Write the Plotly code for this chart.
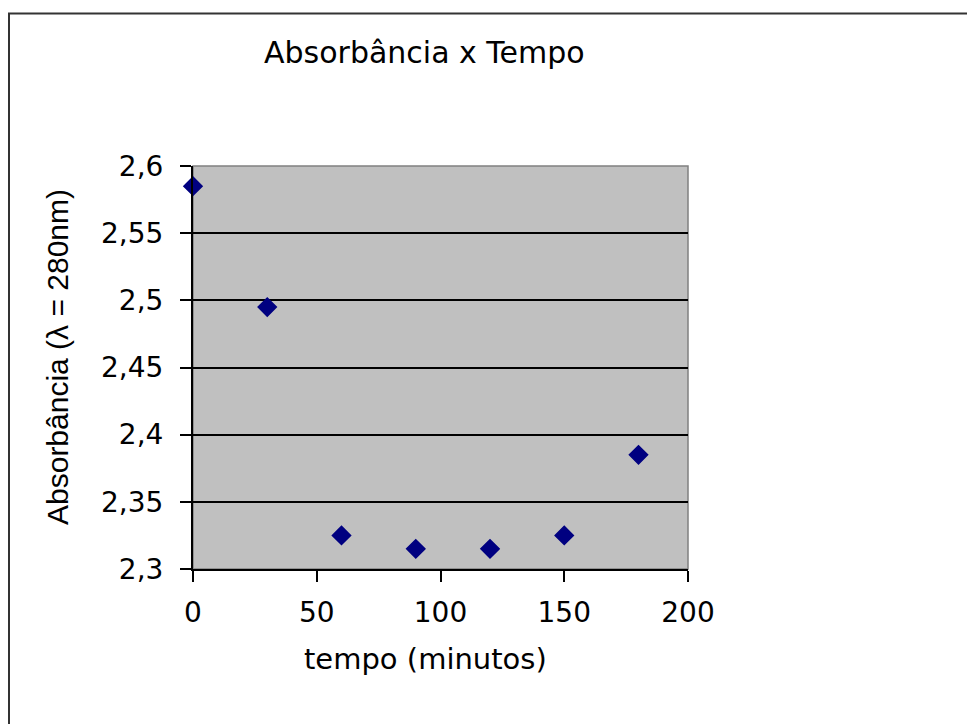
import plotly.graph_objects as go

# data
tempo = [0, 30, 60, 90, 120, 150, 180]
absorbancia = [2.585, 2.495, 2.325, 2.315, 2.315, 2.325, 2.385]
x_ticks = [0, 50, 100, 150, 200]
x_ticklabels = ["0", "50", "100", "150", "200"]
y_ticks = [2.3, 2.35, 2.4, 2.45, 2.5, 2.55, 2.6]
y_ticklabels = ["2,3", "2,35", "2,4", "2,45", "2,5", "2,55", "2,6"]

title_text = "Absorbância x Tempo"
x_title = "tempo (minutos)"
y_title = "Absorbância (λ = 280nm)"

WIN_W, WIN_H = 975, 724
OFF = 8  # page body margin
W, H = WIN_W - OFF, WIN_H - OFF
# plot area in screenshot pixels
L, R, T, B = 193, 688, 166, 569

WIDE = "DejaVu Sans, Verdana, sans-serif"
ARIAL = "Liberation Sans, Arial, sans-serif"

fig = go.Figure()
fig.add_trace(go.Scatter(
    x=tempo, y=absorbancia, mode="markers",
    marker=dict(symbol="diamond", size=14, color="#000080",
                line=dict(width=1.5, color="#000080")),
    cliponaxis=False, showlegend=False,
))

def px_x(p):
    return (p - L) / (R - L)

def px_y(p):
    return (B - p) / (B - T)

fig.update_layout(
    width=W, height=H,
    margin=dict(l=L - OFF, r=WIN_W - R, t=T - OFF, b=WIN_H - B, pad=0),
    paper_bgcolor="white",
    plot_bgcolor="#C0C0C0",
    font=dict(family=WIDE, color="black"),
    xaxis=dict(
        range=[0, 200], tickvals=x_ticks, ticktext=x_ticklabels,
        showgrid=False, zeroline=False,
        showline=True, linecolor="black", linewidth=2,
        ticks="outside", ticklen=11, tickwidth=2, tickcolor="black",
        tickfont=dict(size=28, family=WIDE, color="black"),
        ticklabelstandoff=6,
    ),
    yaxis=dict(
        range=[2.3, 2.6], tickvals=y_ticks, ticktext=y_ticklabels,
        showgrid=True, gridcolor="black", gridwidth=1.5, zeroline=False,
        showline=True, linecolor="black", linewidth=2,
        ticks="outside", ticklen=11, tickwidth=2, tickcolor="black",
        tickfont=dict(size=28, family=WIDE, color="black"),
        ticklabelstandoff=11,
    ),
    shapes=[
        # plot-area border (gray)
        dict(type="rect", xref="paper", yref="paper", x0=0, x1=1, y0=0, y1=1,
             line=dict(color="#808080", width=1.5), layer="below"),
        # chart outer border (extends past the visible window)
        dict(type="rect", xref="paper", yref="paper",
             x0=px_x(9), x1=px_x(1100), y0=px_y(800), y1=px_y(13.5),
             line=dict(color="#333333", width=2)),
    ],
    annotations=[
        dict(text=title_text, xref="paper", yref="paper",
             x=px_x(424), y=px_y(53), xanchor="center", yanchor="middle",
             showarrow=False, font=dict(size=30, family=WIDE, color="black")),
        dict(text=x_title, xref="paper", yref="paper",
             x=px_x(425), y=px_y(659), xanchor="center", yanchor="middle",
             showarrow=False, font=dict(size=29, family=WIDE, color="black")),
        dict(text=y_title, xref="paper", yref="paper",
             x=px_x(57), y=px_y(357), xanchor="center", yanchor="middle",
             textangle=-90,
             showarrow=False, font=dict(size=30, family=ARIAL, color="black")),
    ],
)

fig.write_html("out.html")
